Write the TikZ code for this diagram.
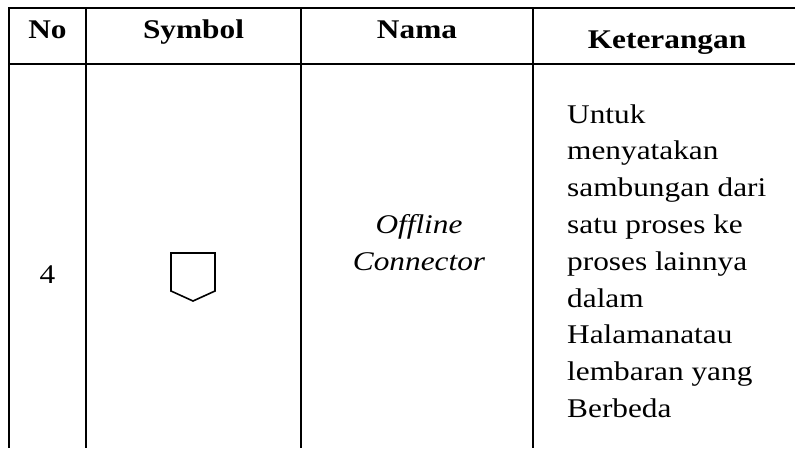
\documentclass[tikz,border=0pt]{standalone}
\usepackage{fontspec}
\setmainfont{Liberation Serif}[FakeStretch=1.16]
\usetikzlibrary{positioning}
\tikzset{
	cell/.style={inner sep=0pt, font=\fontsize{27}{36.8}\selectfont}, % body text of the table
	head/.style={inner sep=0pt, font=\fontsize{27}{36.8}\selectfont\bfseries},
	rule/.style={line width=2pt},
}

\begin{document}
\begin{tikzpicture}[x=1pt,y=-1pt]
		% page size of the reference
		\useasboundingbox (0,0) rectangle (795,448);
		
		% column borders
		\def\colno{9}
		\def\colsym{86}
		\def\colnama{301}
		\def\colket{533}
		
		% horizontal rules (table runs off to the right and bottom)
		\draw[rule] (\colno,8) -- (795,8);
		\draw[rule] (\colno,64) -- (795,64);
		
		% vertical rules
		\draw[rule] (\colno,7) -- (\colno,448);
		\draw[rule] (\colsym,7) -- (\colsym,448);
		\draw[rule] (\colnama,7) -- (\colnama,448);
		\draw[rule] (\colket,7) -- (\colket,448);
		
		% header row
		\node[head, anchor=base] (no) at (47.5,38) {No};
		\node[head, anchor=base] (symbol) at (193.5,38) {Symbol};
		\node[head, anchor=base] (nama) at (417,38) {Nama};
		\node[head, anchor=base] (keterangan) at (667,48) {Keterangan};
		
		% row 4
		\node[cell, anchor=base] (nomor) at (47.5,283) {4};
		
		% off-page connector symbol
		\draw[line width=1.6pt, line join=miter] (171,253) -- (215,253) -- (215,291) -- (193,301) -- (171,291) -- cycle;
		
		\node[cell, anchor=base, font=\fontsize{27}{36.8}\selectfont\itshape] (offline) at (419,233) {Offline};
		\node[cell, anchor=base, font=\fontsize{27}{36.8}\selectfont\itshape] (connector) at (419,270) {Connector};
		
		% the base of a multi-line node is its last line
		\node[cell, align=left, anchor=base west] (uraian) at (567,417.4) {Untuk\\menyatakan\\sambungan dari\\satu proses ke\\proses lainnya\\dalam\\Halamanatau\\lembaran yang\\Berbeda};
		
\end{tikzpicture}
\end{document}
